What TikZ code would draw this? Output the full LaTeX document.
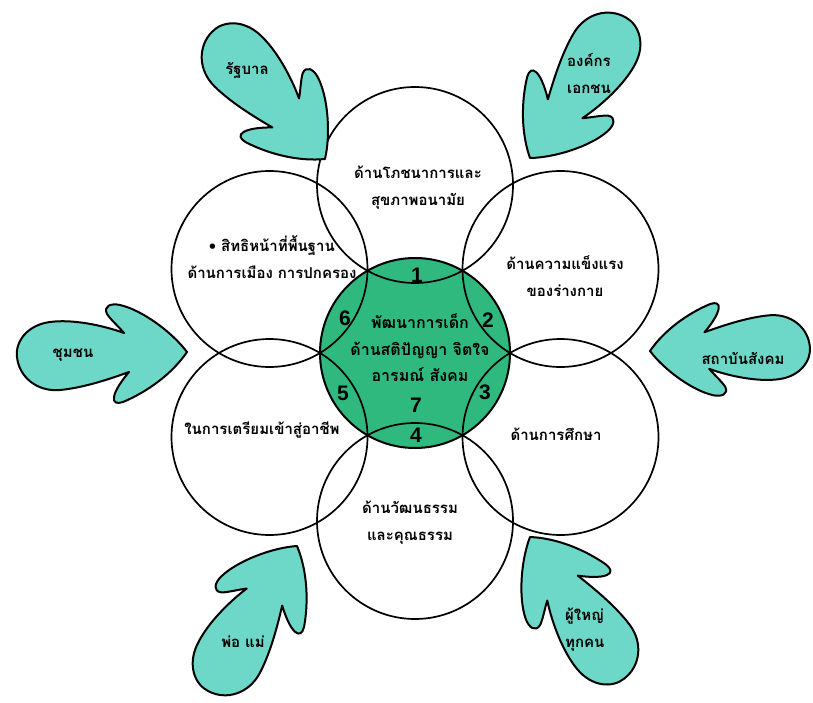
\documentclass[tikz,border=0pt]{standalone}
\usepackage{fontspec}
\newfontfamily\thaifont[Script=Thai]{Loma}
\newfontfamily\numfont{Liberation Sans}
\definecolor{tealfill}{HTML}{6ED8C8}
\definecolor{hubgreen}{HTML}{2FB97E}
\tikzset{
  ring/.style={circle, draw, line width=1.7pt, minimum size=196pt, inner sep=0pt},
  hub/.style={circle, draw, line width=2pt, fill=hubgreen, minimum size=190pt, inner sep=0pt},
  lbl/.style={font=\thaifont\bfseries\fontsize{15}{27}\selectfont, align=center, inner sep=0pt},
  hublbl/.style={font=\thaifont\bfseries\fontsize{16}{26.5}\selectfont, align=center, inner sep=0pt},
  num/.style={font=\numfont\bfseries\fontsize{21}{21}\selectfont, inner sep=0pt},
  blobline/.style={fill=tealfill, draw, line width=2pt, line join=round},
  blob/.pic={
    \path[blobline] (0,0)
      .. controls (-15,20) and (-45,42) .. (-67,47)
      .. controls (-76,49) and (-84,46) .. (-80,38)
      .. controls (-76,32) and (-68,25) .. (-63,19)
      .. controls (-85,27) and (-115,33) .. (-137,30)
      .. controls (-160,27) and (-172,10) .. (-170,-5)
      .. controls (-168,-25) and (-150,-40) .. (-127,-38)
      .. controls (-105,-36) and (-80,-28) .. (-58,-20)
      .. controls (-64,-27) and (-72,-38) .. (-73,-45)
      .. controls (-74,-51) and (-70,-52) .. (-64,-50)
      .. controls (-40,-40) and (-15,-22) .. (0,0) -- cycle;
  }
}
\begin{document}
\begin{tikzpicture}[x=1pt,y=1pt]
\useasboundingbox (0,0) rectangle (813,-703);
% hub and rings
\node[hub] (hub) at (415,-353) {};
\node[ring] (rT)  at (415,-185) {};
\node[ring] (rUR) at (560.5,-269) {};
\node[ring] (rLR) at (560.5,-437) {};
\node[ring] (rB)  at (415,-521) {};
\node[ring] (rLL) at (269.5,-437) {};
\node[ring] (rUL) at (269.5,-269) {};
% ring labels
\node[lbl] (tT)  at (418,-188) {ด้านโภชนาการและ\\สุขภาพอนามัย};
\node[lbl] (tUL) at (272,-257) {• สิทธิหน้าที่พื้นฐาน\\ด้านการเมือง การปกครอง};
\node[lbl] (tUR) at (565,-276) {ด้านความแข็งแรง\\ของร่างกาย};
\node[lbl] (tLR) at (556,-434) {ด้านการศึกษา};
\node[lbl] (tLL) at (262,-430) {ในการเตรียมเข้าสู่อาชีพ};
\node[lbl] (tB)  at (410,-523) {ด้านวัฒนธรรม\\และคุณธรรม};
% hub text and numbers
\node[hublbl] (tHub) at (420,-348) {พัฒนาการเด็ก\\ด้านสติปัญญา จิตใจ\\อารมณ์ สังคม};
\node[num] (n1) at (417,-275) {1};
\node[num] (n2) at (488,-320) {2};
\node[num] (n3) at (485,-392) {3};
\node[num] (n4) at (416,-435) {4};
\node[num] (n5) at (343,-393) {5};
\node[num] (n6) at (345,-318) {6};
\node[num] (n7) at (416,-405) {7};
% blob arrows
\pic[rotate=0]    (aL)  at (187,-352) {blob};
\pic[rotate=180, scale=0.94] (aR) at (650,-351) {blob};
\pic[rotate=-50]  (aTL) at (325,-159) {blob};
\pic[rotate=-126] (aTR) at (530,-158) {blob};
\pic[rotate=57]   (aBL) at (297,-546) {blob};
\pic[rotate=122]  (aBR) at (530,-537) {blob};
% blob labels
\node[lbl] (lTL) at (247,-70) {รัฐบาล};
\node[lbl, anchor=west, align=left] (lTR) at (567,-73) {องค์กร\\เอกชน};
\node[lbl] (lL) at (73,-355) {ชุมชน};
\node[lbl] (lR) at (743,-358) {สถาบันสังคม};
\node[lbl] (lBL) at (243,-642) {พ่อ แม่};
\node[lbl, anchor=west, align=left] (lBR) at (565,-630) {ผู้ใหญ่\\ทุกคน};
\end{tikzpicture}
\end{document}
